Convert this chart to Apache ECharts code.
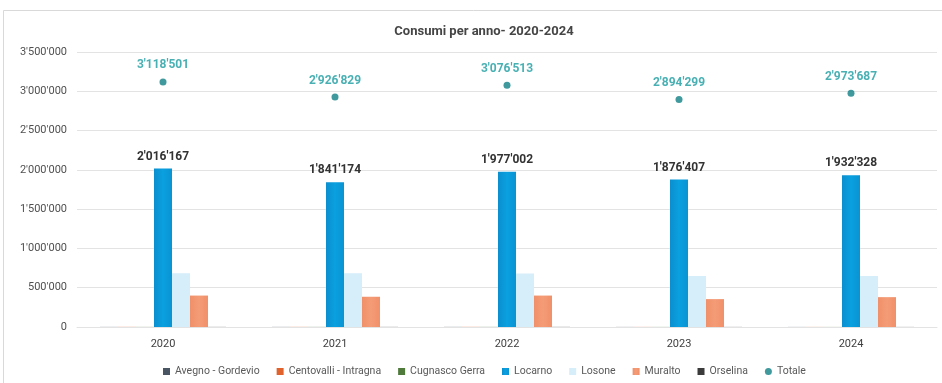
<!DOCTYPE html>
<html>
<head>
<meta charset="utf-8">
<script src="https://cdn.jsdelivr.net/npm/echarts@6/dist/echarts.min.js"></script>
<style>
  html, body { margin: 0; padding: 0; background: #fff; }
  #chart { width: 942px; height: 383px; }
</style>
</head>
<body>
<div id="chart"></div>
<script>
// Annual consumption per municipality, 2020-2024
const years = ['2020', '2021', '2022', '2023', '2024'];
const avegno = [1200, 1300, 1400, 1000, 900];
const centovalli = [1500, 1500, 1600, 1100, 1000];
const cugnasco = [1100, 1200, 1300, 900, 800];
const locarno = [2016167, 1841174, 1977002, 1876407, 1932328];
const losone = [685000, 683000, 680000, 650000, 650000];
const muralto = [400000, 385000, 400000, 355000, 380000];
const orselina = [1200, 1300, 1400, 1000, 900];
const totale = [3118501, 2926829, 3076513, 2894299, 2973687];
const yTicks = [0, 500000, 1000000, 1500000, 2000000, 2500000, 3000000, 3500000];

const fmt = v => String(Math.round(v)).replace(/\B(?=(\d{3})+(?!\d))/g, "'");
const FONT = 'Roboto, "Open Sans", sans-serif';

const chart = echarts.init(document.getElementById('chart'), null, { renderer: 'canvas' });

function bar(name, data, color, extra) {
  return Object.assign({
    name: name,
    type: 'bar',
    data: data,
    barWidth: 18,
    barGap: '0%',
    itemStyle: { color: color },
    emphasis: { disabled: true }
  }, extra || {});
}

chart.setOption({
  animation: false,
  backgroundColor: '#ffffff',
  textStyle: { fontFamily: FONT },
  graphic: [{
    type: 'rect',
    shape: { x: 3.5, y: 10.5, width: 960, height: 400 },
    style: { fill: 'none', stroke: '#d9d9d9', lineWidth: 1 },
    silent: true,
    z: -10
  }],
  title: {
    text: 'Consumi per anno- 2020-2024',
    left: 479,
    textAlign: 'center',
    top: 20,
    textStyle: { fontSize: 13, fontWeight: 'bold', color: '#454545', fontFamily: FONT }
  },
  legend: {
    bottom: 1,
    left: 158,
    itemWidth: 7,
    itemHeight: 7,
    itemGap: 17,
    textStyle: { fontSize: 10.5, color: '#595959', fontFamily: FONT },
    data: [
      { name: 'Avegno - Gordevio', icon: 'rect' },
      { name: 'Centovalli - Intragna', icon: 'rect' },
      { name: 'Cugnasco Gerra', icon: 'rect' },
      { name: 'Locarno', icon: 'rect' },
      { name: 'Losone', icon: 'rect' },
      { name: 'Muralto', icon: 'rect' },
      { name: 'Orselina', icon: 'rect' },
      { name: 'Totale', icon: 'circle' }
    ]
  },
  grid: { left: 77, right: 5, top: 52, bottom: 56 },
  xAxis: {
    type: 'category',
    data: years,
    axisLine: { show: true, lineStyle: { color: '#e3e3e3' } },
    axisTick: { show: false },
    axisLabel: { color: '#404040', fontSize: 11, margin: 12 }
  },
  yAxis: {
    type: 'value',
    min: yTicks[0],
    max: yTicks[yTicks.length - 1],
    interval: yTicks[1] - yTicks[0],
    axisLine: { show: false },
    axisTick: { show: false },
    splitLine: { lineStyle: { color: '#e3e3e3' } },
    axisLabel: { color: '#505050', fontSize: 11, margin: 10, formatter: fmt }
  },
  series: [
    bar('Avegno - Gordevio', avegno, '#4a5563'),
    bar('Centovalli - Intragna', centovalli, '#e0632e'),
    bar('Cugnasco Gerra', cugnasco, '#4f7a3c'),
    bar('Locarno', locarno, new echarts.graphic.LinearGradient(0, 0, 1, 0, [
      { offset: 0, color: '#0a8fcf' }, { offset: 0.5, color: '#0aa0e0' }, { offset: 1, color: '#0a93d3' }
    ]), {
      label: {
        show: true, position: 'top', distance: 6,
        formatter: p => fmt(p.value),
        fontSize: 12, fontWeight: 'bold', color: '#333333', fontFamily: FONT
      }
    }),
    bar('Losone', losone, '#d5eefa'),
    bar('Muralto', muralto, new echarts.graphic.LinearGradient(0, 0, 1, 0, [
      { offset: 0, color: '#f0906a' }, { offset: 0.5, color: '#f49c76' }, { offset: 1, color: '#f0906a' }
    ])),
    bar('Orselina', orselina, '#3b3b3b'),
    {
      name: 'Totale',
      type: 'scatter',
      data: totale,
      symbol: 'circle',
      symbolSize: 7,
      itemStyle: { color: '#0f7f85' },
      emphasis: { disabled: true },
      label: {
        show: true, position: 'top', distance: 7,
        formatter: p => fmt(p.value),
        fontSize: 12, fontWeight: 'bold', color: '#1a9ca0', fontFamily: FONT
      }
    }
  ]
});
</script>
</body>
</html>
